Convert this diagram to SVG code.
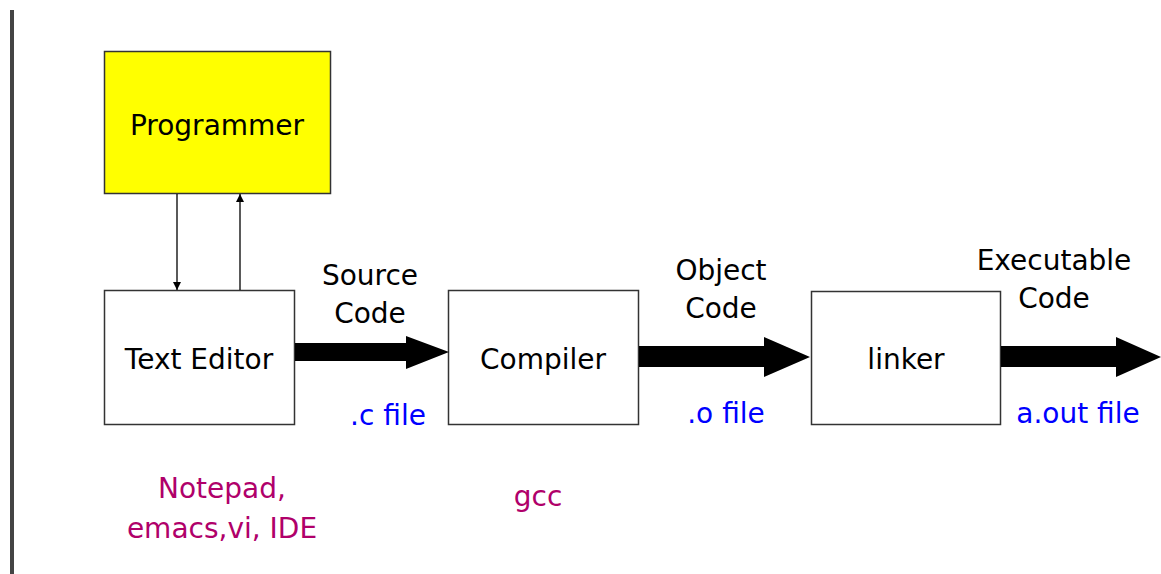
<svg xmlns="http://www.w3.org/2000/svg" width="1161" height="574" viewBox="0 0 1161 574">
<defs>
<marker id="ah" viewBox="0 0 10 10" refX="10" refY="5" markerWidth="8" markerHeight="8" markerUnits="userSpaceOnUse" orient="auto">
<path d="M0,0 L10,5 L0,10 z" fill="#000"/>
</marker>
</defs>
<style>
text{font-family:"DejaVu Sans",sans-serif;font-size:28px;fill:#000;text-anchor:middle}
.box{fill:#fff;stroke:#333;stroke-width:1.5}
.blue{fill:#0000ff}
.mag{fill:#b0006a}
.thin{stroke:#000;stroke-width:1.3;fill:none;marker-end:url(#ah)}
</style>
<rect width="1161" height="574" fill="#fff"/>
<rect x="10" y="10" width="4" height="564" fill="#444"/>
<g id="programmer">
<rect x="104.5" y="51.5" width="226" height="142" fill="#ffff00" stroke="#333" stroke-width="1.5"/>
<text x="217" y="135">Programmer</text>
</g>
<g id="text-editor">
<rect class="box" x="104.5" y="290.5" width="190" height="134"/>
<text x="199" y="369">Text Editor</text>
</g>
<g id="compiler">
<rect class="box" x="448.5" y="290.5" width="190" height="134"/>
<text x="543" y="369">Compiler</text>
</g>
<g id="linker">
<rect class="box" x="811.5" y="291.5" width="189" height="133"/>
<text x="906" y="369">linker</text>
</g>
<g id="connectors">
<line class="thin" x1="177" y1="194" x2="177" y2="290"/>
<line class="thin" x1="240" y1="290" x2="240" y2="194"/>
<path d="M295,343 L406,343 L406,336 L449,352 L406,369 L406,361 L295,361 z" fill="#000"/>
<path d="M639,346 L764,346 L764,337 L810,357 L764,377 L764,367 L639,367 z" fill="#000"/>
<path d="M1001,346 L1116,346 L1116,337 L1161,357 L1116,377 L1116,367 L1001,367 z" fill="#000"/>
</g>
<g id="labels">
<text x="370" y="285">Source</text>
<text x="370" y="323">Code</text>
<text class="blue" x="388" y="425">.c file</text>
<text x="721" y="280">Object</text>
<text x="721" y="318">Code</text>
<text class="blue" x="726" y="423">.o file</text>
<text x="1054" y="270">Executable</text>
<text x="1054" y="308">Code</text>
<text class="blue" x="1078" y="423">a.out file</text>
<text class="mag" x="222" y="498">Notepad,</text>
<text class="mag" x="222" y="538">emacs,vi, IDE</text>
<text class="mag" x="538" y="506">gcc</text>
</g>
</svg>
